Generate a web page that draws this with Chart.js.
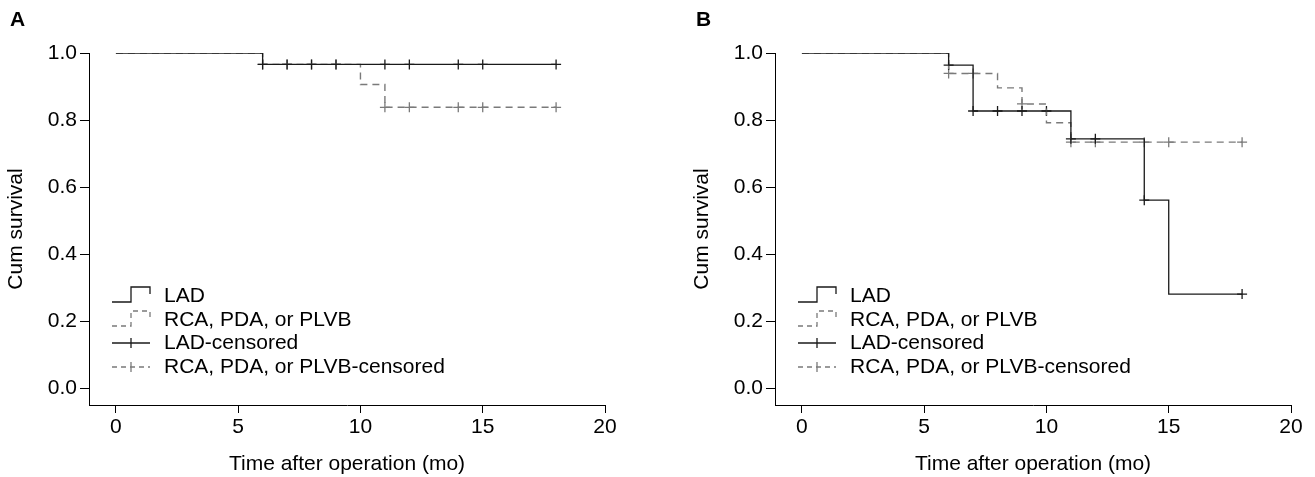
<!DOCTYPE html>
<html lang="en">
<head>
    <meta charset="UTF-8">
    <title>Cum survival by territory</title>
    <script src="https://cdn.jsdelivr.net/npm/chart.js"></script>
    <style>
        body { margin: 0; background: #fff; font-family: "Liberation Sans", Arial, sans-serif; }
        .panel { position: absolute; top: 0; width: 628px; height: 477px; }
        .tag { position: absolute; left: 10px; top: 7px; font-weight: bold; font-size: 21px; color: #000; }
    </style>
</head>
<body>
    <div class="panel" style="left:0px">
        <canvas id="chartA" width="628" height="477"></canvas>
        <div class="tag">A</div>
    </div>
    <div class="panel" style="left:686px">
        <canvas id="chartB" width="628" height="477"></canvas>
        <div class="tag">B</div>
    </div>

    <script>
        // axes
        const xTicks = [0, 5, 10, 15, 20];
        const yTicks = [0, 0.2, 0.4, 0.6, 0.8, 1.0];
        const legendLabels = ['LAD', 'RCA, PDA, or PLVB', 'LAD-censored', 'RCA, PDA, or PLVB-censored'];

        // panel A
        const aLadTime = [0, 6, 18];
        const aLadSurv = [1, 0.966, 0.966];
        const aRcaTime = [0, 6, 10, 11, 18];
        const aRcaSurv = [1, 0.966, 0.906, 0.838, 0.838];
        const aLadCensTime = [6, 7, 8, 9, 11, 12, 14, 15, 18];
        const aLadCensSurv = [0.966, 0.966, 0.966, 0.966, 0.966, 0.966, 0.966, 0.966, 0.966];
        const aRcaCensTime = [6, 7, 8, 9, 11, 12, 14, 15, 18];
        const aRcaCensSurv = [0.966, 0.966, 0.966, 0.966, 0.838, 0.838, 0.838, 0.838, 0.838];

        // panel B
        const bLadTime = [0, 6, 7, 11, 14, 15, 18];
        const bLadSurv = [1, 0.964, 0.827, 0.744, 0.561, 0.281, 0.281];
        const bRcaTime = [0, 6, 8, 9, 10, 11, 18];
        const bRcaSurv = [1, 0.939, 0.896, 0.848, 0.792, 0.734, 0.734];
        const bLadCensTime = [6, 7, 8, 9, 10, 11, 12, 14, 18];
        const bLadCensSurv = [0.964, 0.827, 0.827, 0.827, 0.827, 0.744, 0.744, 0.561, 0.281];
        const bRcaCensTime = [6, 7, 9, 11, 12, 14, 15, 18];
        const bRcaCensSurv = [0.939, 0.939, 0.848, 0.734, 0.734, 0.734, 0.734, 0.734];

        const BLACK = '#1a1a1a';
        const GRAY = '#7a7a7a';
        const DASH = [7, 5];
        const FONT = '"Liberation Sans", Arial, sans-serif';
        const FSIZE = 21;

        function pts(xs, ys) {
            return xs.map((x, i) => ({ x: x, y: ys[i] }));
        }

        // legend drawn inside the plot area, lower left
        const kmLegend = {
            id: 'kmLegend',
            afterDatasetsDraw(chart) {
                const ctx = chart.ctx;
                const x0 = 112, x1 = 131, x2 = 150, tx = 164;
                const rows = [296, 320, 343, 367];
                ctx.save();
                ctx.lineWidth = 1.3;

                // LAD step icon
                ctx.strokeStyle = BLACK;
                ctx.setLineDash([]);
                ctx.beginPath();
                ctx.moveTo(x0, rows[0] + 6); ctx.lineTo(x1, rows[0] + 6);
                ctx.lineTo(x1, rows[0] - 9); ctx.lineTo(x2, rows[0] - 9);
                ctx.lineTo(x2, rows[0] - 2);
                ctx.stroke();

                // RCA step icon
                ctx.strokeStyle = GRAY;
                ctx.setLineDash([5, 4]);
                ctx.beginPath();
                ctx.moveTo(x0, rows[1] + 6); ctx.lineTo(x1, rows[1] + 6);
                ctx.lineTo(x1, rows[1] - 9); ctx.lineTo(x2, rows[1] - 9);
                ctx.lineTo(x2, rows[1] - 2);
                ctx.stroke();

                // censored icons
                [[rows[2], BLACK, []], [rows[3], GRAY, [5, 4]]].forEach(([y, col, dash]) => {
                    ctx.strokeStyle = col;
                    ctx.setLineDash(dash);
                    ctx.beginPath();
                    ctx.moveTo(x0, y); ctx.lineTo(x2, y);
                    ctx.stroke();
                    ctx.setLineDash([]);
                    ctx.beginPath();
                    ctx.moveTo(x1, y - 5); ctx.lineTo(x1, y + 5);
                    ctx.stroke();
                });

                ctx.setLineDash([]);
                ctx.fillStyle = '#000';
                ctx.font = FSIZE + 'px ' + FONT;
                ctx.textBaseline = 'middle';
                legendLabels.forEach((t, i) => ctx.fillText(t, tx, rows[i]));
                ctx.restore();
            }
        };

        function createChart(canvasId, lad, rca, ladCens, rcaCens) {
            const ctx = document.getElementById(canvasId).getContext('2d');
            return new Chart(ctx, {
                type: 'line',
                data: {
                    datasets: [
                        {
                            label: legendLabels[0],
                            data: lad,
                            stepped: 'before',
                            borderColor: BLACK,
                            borderWidth: 1.3,
                            pointRadius: 0,
                            fill: false
                        },
                        {
                            label: legendLabels[1],
                            data: rca,
                            stepped: 'before',
                            borderColor: GRAY,
                            borderWidth: 1.4,
                            borderDash: DASH,
                            pointRadius: 0,
                            fill: false
                        },
                        {
                            label: legendLabels[2],
                            data: ladCens,
                            showLine: false,
                            pointStyle: 'cross',
                            pointRadius: 5,
                            borderColor: BLACK,
                            borderWidth: 1.3
                        },
                        {
                            label: legendLabels[3],
                            data: rcaCens,
                            showLine: false,
                            pointStyle: 'cross',
                            pointRadius: 5,
                            borderColor: GRAY,
                            borderWidth: 1.3
                        }
                    ]
                },
                options: {
                    responsive: false,
                    animation: false,
                    events: [],
                    layout: { padding: { top: 53, right: 23, left: 0, bottom: 0 } },
                    plugins: { legend: { display: false }, tooltip: { enabled: false } },
                    scales: {
                        x: {
                            type: 'linear',
                            min: -1.1,
                            max: 20,
                            afterBuildTicks: s => { s.ticks = xTicks.map(v => ({ value: v })); },
                            afterFit: s => { s.height = 72; },
                            border: { display: true, color: '#000', width: 1 },
                            grid: { drawOnChartArea: false, drawTicks: true, tickLength: 8, color: '#000' },
                            ticks: { color: '#000', font: { family: FONT, size: FSIZE }, padding: 2, maxRotation: 0 },
                            title: { display: true, text: 'Time after operation (mo)', color: '#000', font: { family: FONT, size: FSIZE }, padding: { top: 0, bottom: 0 } }
                        },
                        y: {
                            type: 'linear',
                            min: -0.05,
                            max: 1.0,
                            afterBuildTicks: s => { s.ticks = yTicks.map(v => ({ value: v })); },
                            afterFit: s => { s.width = 89; },
                            border: { display: true, color: '#000', width: 1 },
                            grid: { drawOnChartArea: false, drawTicks: true, tickLength: 9, color: '#000' },
                            ticks: { color: '#000', font: { family: FONT, size: FSIZE }, padding: 3, callback: v => v.toFixed(1) },
                            title: { display: true, text: 'Cum survival', color: '#000', font: { family: FONT, size: FSIZE }, padding: { top: 4, bottom: 0 } }
                        }
                    }
                },
                plugins: [kmLegend]
            });
        }

        createChart('chartA', pts(aLadTime, aLadSurv), pts(aRcaTime, aRcaSurv),
            pts(aLadCensTime, aLadCensSurv), pts(aRcaCensTime, aRcaCensSurv));
        createChart('chartB', pts(bLadTime, bLadSurv), pts(bRcaTime, bRcaSurv),
            pts(bLadCensTime, bLadCensSurv), pts(bRcaCensTime, bRcaCensSurv));
    </script>
</body>
</html>
